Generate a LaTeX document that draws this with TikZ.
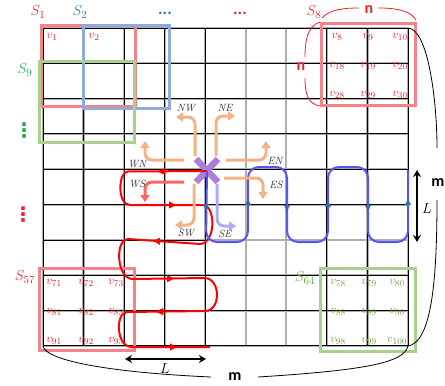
\documentclass[tikz,border=0pt]{standalone}
\usepackage{fontspec}
\newfontfamily\calibfont{Carlito}
\newfontfamily\symfont{DejaVu Sans}
\usetikzlibrary{arrows.meta}
\definecolor{boxred}{RGB}{244,130,135}
\definecolor{boxblue}{RGB}{143,170,220}
\definecolor{boxgreen}{RGB}{169,209,142}
\definecolor{txtred}{RGB}{240,30,40}
\definecolor{txtblue}{RGB}{46,117,182}
\definecolor{txtgreen}{RGB}{30,170,80}
\definecolor{txtolive}{RGB}{105,165,65}
\definecolor{dirorange}{RGB}{244,177,131}
\definecolor{dirred}{RGB}{255,100,100}
\definecolor{dirblue}{RGB}{170,170,255}
\definecolor{xpurple}{RGB}{175,125,215}
\definecolor{pathblue}{RGB}{85,85,240}
\definecolor{tipblue}{RGB}{55,110,175}
\definecolor{pathred}{RGB}{255,0,0}
\definecolor{gridgray}{RGB}{175,175,175}
\begin{document}
\begin{tikzpicture}[x=1pt,y=-1pt,
  gridshade/.style={line width=2.2pt, color=gridgray},
  gridink/.style={line width=1pt, black},
  region/.style={line width=3pt},
  vlab/.style={inner sep=0pt, font=\fontsize{13}{13}\selectfont},
  slab/.style={inner sep=0pt, font=\fontsize{15}{15}\selectfont},
  dirlab/.style={inner sep=0pt, text=black!80, font=\fontsize{10.5}{10.5}\selectfont\itshape},
  dirarrow/.style={line width=3pt, rounded corners=7pt, -{Triangle[width=9pt,length=7pt]}},
  bluepath/.style={line width=2pt, pathblue, rounded corners=11pt},
  redpath/.style={line width=2pt, pathred},
  bluetip/.style={tipblue, -{Triangle[width=6pt,length=6pt]}},
  redtip/.style={pathred, -{Triangle[width=7pt,length=7pt]}},
  measure/.style={line width=1.5pt, {Stealth[length=7pt,width=8pt]}-{Stealth[length=7pt,width=8pt]}},
  brace/.style={line width=0.8pt},
  bigletter/.style={inner sep=0pt, font=\calibfont\bfseries\fontsize{16}{16}\selectfont},
  dotrow/.style={inner sep=0pt, anchor=base, font=\calibfont\bfseries\fontsize{17}{17}\selectfont},
  dotcol/.style={inner sep=0pt, font=\symfont\bfseries\fontsize{20}{20}\selectfont},
]
\useasboundingbox (0,0) rectangle (445,386);

% ---- 10 x 10 vertex grid ----
\foreach \i in {0,...,9} {
  \pgfmathsetmacro\gx{43+40.56*\i}
  \pgfmathsetmacro\gy{28+35.33*\i}
  \draw[gridshade] (\gx,28) -- (\gx,346);
  \draw[gridshade] (43,\gy) -- (408,\gy);
}
\foreach \i in {0,1,2,3,4,7,8,9} {
  \pgfmathsetmacro\gx{43+40.56*\i}
  \draw[gridink] (\gx,28) -- (\gx,346);
}
\foreach \i in {0,1,2,3,4,5,7,8,9} {
  \pgfmathsetmacro\gy{28+35.33*\i}
  \draw[gridink] (43,\gy) -- (408,\gy);
}
\draw[gridink] (43,240) -- (206,240);

% ---- sub-grid regions ----
\draw[region, boxred]   (41,25)   rectangle (135,106);
\draw[region, boxblue]  (83,25)   rectangle (169,108);
\draw[region, boxgreen] (39,61)   rectangle (134,142);
\draw[region, boxred]   (321,23)  rectangle (415,105);
\draw[region, boxred]   (39,268)  rectangle (134,350);
\draw[region, boxgreen] (320,268) rectangle (415,351);

% ---- start vertex ----
\coordinate (hub) at (207,171);
\draw[xpurple, line width=6.5pt] (196,159) -- (218,182) (218,159) -- (196,182);

% ---- serpentine routes ----
\draw[redpath] (hub) -- (128,171.5)
  .. controls (118,171.5) and (117,205) .. (130,205)
  -- (203,205)
  .. controls (216,206) and (216,243) .. (200,244)
  -- (128,239)
  .. controls (115,239) and (116,279) .. (133,279)
  -- (205,278)
  .. controls (221,279) and (221,311) .. (205,311)
  -- (127,312)
  .. controls (115,313) and (116,347) .. (132,347)
  -- (210,347);
\draw[redtip] (167,171.5) -- (158,171.5);
\draw[redtip] (167,205) -- (176,205);
\draw[redtip] (162,241.4) -- (153,240.8);
\draw[redtip] (165,278.6) -- (174,278.6);
\draw[redtip] (165,311.6) -- (156,311.6);
\draw[redtip] (168,347) -- (177,347);

\draw[bluepath] (hub) -- (206,242) -- (248,242) -- (248,167) -- (287,167)
  -- (287,242) -- (328,242) -- (328,167) -- (368,167) -- (368,242)
  -- (408,242) -- (408,170);
\draw[bluetip] (206,203) -- (206,210);
\draw[bluetip] (248,206) -- (248,199);
\draw[bluetip] (287,204) -- (287,211);
\draw[bluetip] (328,208) -- (328,201);
\draw[bluetip] (368,204) -- (368,211);
\draw[bluetip] (408,206) -- (408,199);

% ---- eight move directions ----
\draw[dirarrow, dirorange] (195,156) -- (195,117) -- (176,117);
\draw[dirarrow, dirorange] (216,156) -- (216,116) -- (235,116);
\draw[dirarrow, dirorange] (184,160) -- (145,160) -- (145,141);
\draw[dirarrow, dirred]    (184,182) -- (145,182) -- (145,202);
\draw[dirarrow, dirorange] (226,160) -- (266,160) -- (266,141);
\draw[dirarrow, dirorange] (224,178) -- (263,178) -- (263,199);
\draw[dirarrow, dirorange] (194,184) -- (194,225) -- (175,225);
\draw[dirarrow, dirblue]   (217,184) -- (217,226) -- (236,226);

\node[dirlab] (nw) at (186,108) {NW};
\node[dirlab] (ne) at (225,108) {NE};
\node[dirlab] (wn) at (137,164) {WN};
\node[dirlab] (ws) at (137,184) {WS};
\node[dirlab] (en) at (275,161) {EN};
\node[dirlab] (es) at (276,185) {ES};
\node[dirlab] (sw) at (186,233) {SW};
\node[dirlab] (se) at (225,234) {SE};

% ---- region labels ----
\node[slab, txtred]   (s1)  at (38,12)  {$S_{1}$};
\node[slab, txtblue]  (s2)  at (80,12)  {$S_{2}$};
\node[dotrow, txtblue] (bd) at (165,14) {...};
\node[dotrow, txtred]  (rd) at (240,14) {...};
\node[slab, txtred]   (s8)  at (314,12) {$S_{8}$};
\node[slab, txtgreen] (s9)  at (25,70)  {$S_{9}$};
\node[dotcol, txtgreen] (gv) at (24,131) {⋮};
\node[dotcol, txtred]   (rv) at (23,215) {⋮};
\node[slab, txtred]   (s57) at (25,277) {$S_{57}$};
\node[slab, txtolive] (s64) at (305,278) {$S_{64}$};

% ---- vertex labels ----
\node[vlab, txtred] (v1) at (52,37) {$v_{1}$};
\node[vlab, txtred] (v2) at (94,37) {$v_{2}$};
\foreach \a/\b/\c [count=\r from 0] in {8/9/10,18/19/20,28/29/30} {
  \pgfmathsetmacro\ry{37+29*\r}
  \node[vlab, txtred] (v\a) at (337,\ry) {$v_{\a}$};
  \node[vlab, txtred] (v\b) at (368,\ry) {$v_{\b}$};
  \node[vlab, txtred] (v\c) at (400,\ry) {$v_{\c}$};
}
\foreach \a/\b/\c [count=\r from 0] in {71/72/73,81/82/83,91/92/93} {
  \pgfmathsetmacro\ry{283+29*\r}
  \node[vlab, txtred] (v\a) at (54,\ry) {$v_{\a}$};
  \node[vlab, txtred] (v\b) at (86,\ry) {$v_{\b}$};
  \node[vlab, txtred] (v\c) at (116,\ry) {$v_{\c}$};
}
\foreach \a/\b/\c [count=\r from 0] in {78/79/80,88/89/90,98/99/100} {
  \pgfmathsetmacro\ry{283+29*\r}
  \node[vlab, txtolive] (v\a) at (338,\ry) {$v_{\a}$};
  \node[vlab, txtolive] (v\b) at (369,\ry) {$v_{\b}$};
  \node[vlab, txtolive] (v\c) at (397,\ry) {$v_{\c}$};
}

% ---- size braces ----
\node[bigletter, txtred] (ntop)  at (369,10) {n};
\node[bigletter, txtred] (nleft) at (301,67) {n};
\draw[brace, txtred] (322,18) .. controls (330,9) and (345,8) .. (359,8);
\draw[brace, txtred] (378,8) .. controls (395,8) and (410,10) .. (416,20);
\draw[brace, txtred] (320,22) .. controls (307,26) and (305,42) .. (305,57);
\draw[brace, txtred] (305,78) .. controls (305,94) and (308,104) .. (320,106);

\node[bigletter] (mright)  at (438,183) {m};
\node[bigletter] (mbottom) at (235,377) {m};
\draw[brace] (408,28) .. controls (428,29) and (437,100) .. (437,148);
\draw[brace] (437,200) .. controls (437,290) and (430,342) .. (408,346);
\draw[brace] (43,346) .. controls (46,362) and (120,373) .. (211,377);
\draw[brace] (258,377) .. controls (370,370) and (404,362) .. (408,346);

% ---- window length ----
\coordinate (la) at (417,170);
\coordinate (lb) at (417,242);
\draw[measure] (la) -- (lb);
\node[slab] (lr) at (427,209) {$L$};
\coordinate (lc) at (125,359);
\coordinate (ld) at (206,359);
\draw[measure] (lc) -- (ld);
\node[slab] (lbt) at (165,369) {$L$};
\end{tikzpicture}
\end{document}
